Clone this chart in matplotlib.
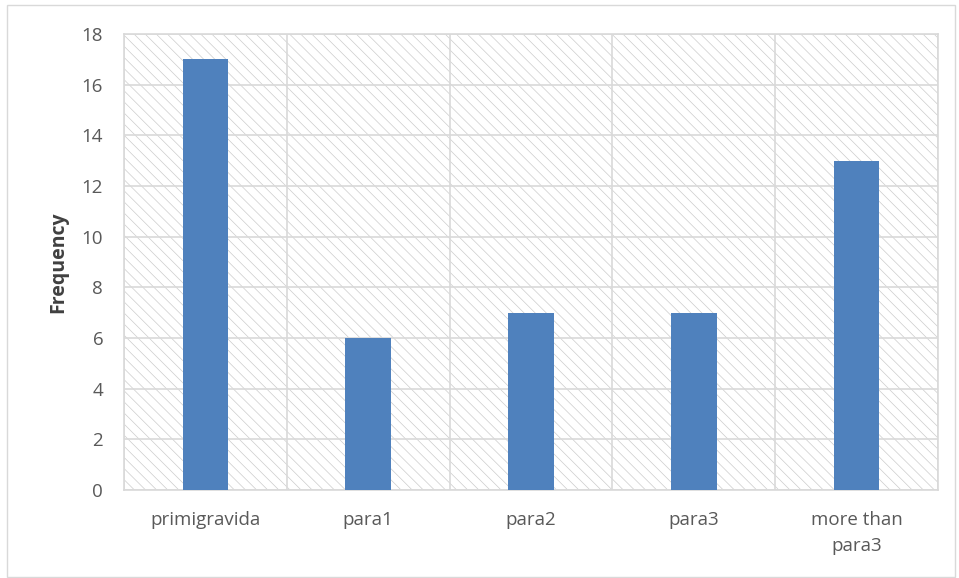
import matplotlib
matplotlib.use("Agg")
import matplotlib.pyplot as plt
from matplotlib.patches import Rectangle
import numpy as np

categories = ["primigravida", "para1", "para2", "para3", "more than\npara3"]
values = [17, 6, 7, 7, 13]
yticks = [0, 2, 4, 6, 8, 10, 12, 14, 16, 18]

plt.rcParams['hatch.color'] = '#cccccc'
plt.rcParams['hatch.linewidth'] = 0.5
plt.rcParams['font.family'] = ['Open Sans', 'DejaVu Sans']

fig = plt.figure(figsize=(9.59, 5.78), dpi=100)
ax = fig.add_axes([124/959, 1-490/578, (938-124)/959, (490-34)/578])

# outer chart border
fig.patches.append(Rectangle((7/959, 0.002), 1-7/959-0.004, 1-5/578-0.002, transform=fig.transFigure,
                             fill=False, edgecolor='#d9d9d9', linewidth=1))

x = np.arange(len(categories))
ax.set_xlim(-0.5, len(categories) - 0.5)
ax.set_ylim(0, 18)

# hatched plot area background
ax.add_patch(Rectangle((0, 0), 1, 1, transform=ax.transAxes, facecolor='white',
                       hatch='\\\\\\', edgecolor='#cccccc', linewidth=0, zorder=0))

for y in yticks:
    ax.axhline(y, color='#d9d9d9', linewidth=1.2, zorder=1)
for b in np.arange(-0.5, len(categories), 1.0):
    ax.axvline(b, color='#d9d9d9', linewidth=1.2, zorder=1)

ax.bar(x, values, width=0.28, color='#4F81BD', zorder=3)

ax.set_yticks(yticks)
ax.set_yticklabels([str(v) for v in yticks], fontsize=13.5, color='#595959')
ax.set_xticks(x)
ax.set_xticklabels(categories, fontsize=13.5, color='#595959', linespacing=1.55)
ax.tick_params(axis='both', length=0)
ax.tick_params(axis='x', pad=15)
ax.tick_params(axis='y', pad=15)
for s in ax.spines.values():
    s.set_color('#d9d9d9')
    s.set_linewidth(1.2)

ax.set_ylabel('Frequency', fontsize=14, fontweight='bold', color='#404040', labelpad=10)

fig.savefig('out.png', dpi=100)
